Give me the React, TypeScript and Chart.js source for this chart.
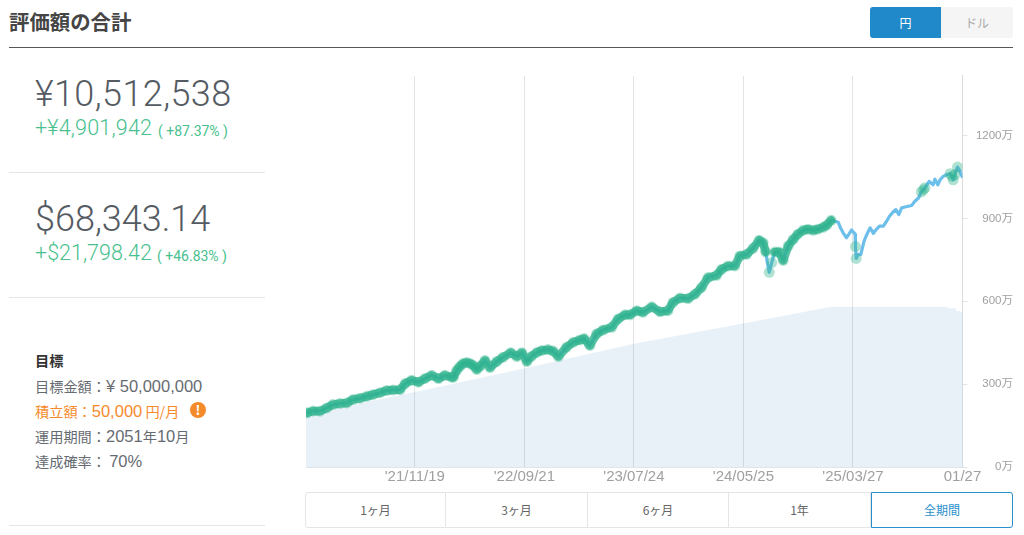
import { useEffect, useRef } from 'react';
import { Chart, registerables } from 'chart.js';
import type { CSSProperties, ReactNode } from 'react';

Chart.register(...registerables);

// days since the start of the range / total value in 万円
const totalDays = [3, 20, 39, 58, 75, 95, 114, 131, 151, 170, 187, 207, 225, 243, 263, 277, 295, 314, 332, 351, 370, 388, 407, 412, 421, 430, 439, 449, 458, 467, 477, 486, 500, 514, 533, 550, 572, 589, 603, 617, 629, 645, 659, 676, 690, 705, 728, 747, 765, 777, 793, 812, 830, 854, 872, 891, 905, 924, 941, 966, 989, 1011, 1025, 1045, 1067, 1087, 1105, 1123, 1147, 1161, 1179, 1198, 1212, 1231, 1249, 1266, 1277, 1284, 1289, 1294, 1298, 1301, 1306, 1310, 1322, 1333, 1347, 1361, 1374, 1389, 1402, 1417, 1430, 1445, 1455, 1467, 1487, 1493, 1501, 1510, 1524, 1534, 1535, 1537, 1543, 1550, 1559, 1567, 1576, 1585, 1592, 1602, 1613, 1622, 1630, 1640, 1648, 1656, 1664, 1676, 1692, 1701, 1711, 1719, 1725, 1729, 1741, 1752, 1757, 1765, 1772, 1780, 1791, 1799, 1805, 1808, 1813, 1820, 1826, 1833];
const totalValues = [196, 203, 202, 214, 226, 230, 232, 244, 249, 256, 262, 269, 277, 279, 280, 302, 314, 307, 320, 332, 320, 332, 325, 325, 350, 364, 375, 378, 375, 368, 353, 364, 386, 360, 382, 397, 414, 400, 414, 382, 400, 415, 422, 425, 420, 400, 434, 452, 460, 465, 440, 482, 496, 506, 536, 551, 551, 566, 560, 580, 562, 566, 596, 612, 610, 626, 650, 686, 694, 716, 728, 728, 764, 770, 792, 821, 812, 779, 739, 705, 724, 740, 764, 778, 778, 748, 800, 824, 843, 857, 861, 857, 861, 868, 876, 893, 886, 866, 847, 830, 858, 843, 798, 755, 770, 770, 818, 843, 866, 846, 858, 872, 872, 890, 908, 923, 932, 914, 938, 942, 947, 962, 974, 996, 1004, 1011, 1034, 1022, 1042, 1022, 1041, 1052, 1059, 1062, 1052, 1040, 1059, 1086, 1074, 1051];

// days on the early stretch with no marker, and the lone markers after it
const unmarkedEarly = [1289, 1298, 1306];
const bandGap = [1289, 1294, 1298, 1301, 1306];
const lastBandDay = 1467;
const loneMarkers = [1294, 1301, 1535, 1537, 1719, 1725, 1729, 1799, 1805, 1808, 1813, 1820];

const principalDays = [0, 151, 302, 609, 916, 1221, 1467, 1791, 1793, 1816, 1817, 1827, 1828, 1834];
const principalValues = [187, 231, 271, 357, 446, 520, 580, 580, 575, 575, 565, 565, 561, 561];

const gridDays = [304, 610, 916, 1222, 1528, 1834];
const gridLabels = ["'21/11/19", "'22/09/21", "'23/07/24", "'24/05/25", "'25/03/27", '01/27'];
const yTicks = [0, 300, 600, 900, 1200];

const rangeButtons = ['1ヶ月', '3ヶ月', '6ヶ月', '1年', '全期間'];

const JP = '"Noto Sans CJK JP", sans-serif';
const LIB = '"Liberation Sans", "Noto Sans CJK JP", sans-serif';
const NUM = 'Roboto, "Noto Sans CJK JP", sans-serif';
const GREEN = '#47bf8e';

const txt = (left: number, cy: number, size: number, color: string, extra: CSSProperties = {}): CSSProperties => ({
  position: 'absolute',
  left,
  top: cy - 20,
  height: 40,
  lineHeight: '40px',
  fontSize: size,
  color,
  fontFamily: JP,
  whiteSpace: 'nowrap',
  ...extra,
});

const rule = (top: number, left: number, width: number, color: string): CSSProperties => ({
  position: 'absolute',
  top,
  left,
  width,
  height: 1,
  background: color,
});

const D = ({ children }: { children: ReactNode }) => (
  <span style={{ fontFamily: LIB, fontSize: 16.5 }}>{children}</span>
);

const ValueChart = () => {
  const canvasRef = useRef<HTMLCanvasElement>(null);

  useEffect(() => {
    if (!canvasRef.current) return;
    const pairs = totalDays.map((d, i) => ({ x: d, y: totalValues[i] }));
    const isMarked = (d: number) => (d <= lastBandDay && !unmarkedEarly.includes(d)) || loneMarkers.includes(d);
    const chart = new Chart(canvasRef.current, {
      type: 'line',
      data: {
        datasets: [
          {
            label: 'markers',
            data: pairs.filter((p) => isMarked(p.x)),
            showLine: false,
            pointRadius: 5.5,
            pointBorderWidth: 0,
            pointBackgroundColor: 'rgba(46,178,140,0.38)',
            order: 1,
          },
          {
            label: 'band',
            data: pairs.map((p) => ({ x: p.x, y: p.x <= lastBandDay && !bandGap.includes(p.x) ? p.y : null })),
            borderColor: 'rgba(46,178,140,0.8)',
            borderWidth: 8.5,
            borderJoinStyle: 'round',
            borderCapStyle: 'round',
            pointRadius: 0,
            spanGaps: false,
            order: 2,
          },
          {
            label: 'total',
            data: pairs,
            borderColor: '#6cbeeb',
            borderWidth: 3.2,
            borderJoinStyle: 'round',
            borderCapStyle: 'round',
            pointRadius: 0,
            order: 3,
          },
          {
            label: 'principal',
            data: principalDays.map((d, i) => ({ x: d, y: principalValues[i] })),
            borderWidth: 0,
            pointRadius: 0,
            fill: 'origin',
            backgroundColor: 'rgba(0,102,170,0.09)',
            order: 4,
          },
        ],
      },
      options: {
        responsive: false,
        animation: false,
        layout: { padding: { left: 10, top: 12, right: 0, bottom: 0 } },
        plugins: { legend: { display: false }, tooltip: { enabled: false } },
        scales: {
          x: {
            type: 'linear',
            min: 0,
            max: 1834,
            afterBuildTicks: (s: any) => {
              s.ticks = gridDays.map((v) => ({ value: v }));
            },
            afterFit: (s: any) => {
              s.height = 23;
            },
            grid: { color: '#e2e4e6', lineWidth: 1, drawTicks: false },
            border: { display: true, color: '#e2e4e6' },
            ticks: {
              autoSkip: false,
              maxRotation: 0,
              padding: 1,
              color: '#a0a0a0',
              font: { family: LIB, size: 15 },
              callback: (v: any) => gridLabels[gridDays.indexOf(v)],
            },
          },
          y: {
            position: 'right',
            min: 0,
            max: 1416,
            afterBuildTicks: (s: any) => {
              s.ticks = yTicks.map((v) => ({ value: v }));
            },
            afterFit: (s: any) => {
              s.width = 50.5;
            },
            grid: { drawOnChartArea: false, tickLength: 5, color: '#e2e4e6' },
            border: { display: true, color: '#d8dadc' },
            ticks: {
              padding: 9,
              crossAlign: 'far',
              color: '#a0a0a0',
              font: { family: LIB, size: 11.5 },
              callback: (v: any) => `${v}万`,
            },
          },
        },
      },
    } as any);
    return () => chart.destroy();
  }, []);

  return (
    <canvas
      ref={canvasRef}
      width={717}
      height={430}
      style={{ position: 'absolute', left: 296, top: 60, width: 717, height: 430 }}
    />
  );
};

export default function App() {
  const cellEdges = [305, 446, 588, 729, 871, 1013];
  return (
    <div style={{ position: 'fixed', inset: 0, background: '#fff', overflow: 'hidden' }}>
      <div style={txt(9, 21, 20.4, '#454545', { fontWeight: 700 })}>評価額の合計</div>
      <div style={rule(47, 9, 1004, '#555')} />

      <div style={{ position: 'absolute', left: 870, top: 7, width: 71, height: 31, background: '#2089c9', borderRadius: '3px 0 0 3px', color: '#fff', textAlign: 'center', lineHeight: '31px', fontSize: 12, fontFamily: JP }}>円</div>
      <div style={{ position: 'absolute', left: 941, top: 7, width: 72, height: 31, background: '#f5f5f5', borderRadius: '0 3px 3px 0', color: '#aaa', textAlign: 'center', lineHeight: '31px', fontSize: 12, fontFamily: JP }}>ドル</div>

      <div style={txt(35, 94, 36, '#555b63', { fontFamily: NUM, fontWeight: 300, letterSpacing: 0.4 })}>¥10,512,538</div>
      <div style={txt(35, 128, 21.5, GREEN, { fontFamily: NUM, fontWeight: 300, letterSpacing: 0.2 })}>+¥4,901,942</div>
      <div style={txt(158, 131, 14, GREEN, { fontFamily: NUM })}>( +87.37% )</div>
      <div style={rule(172, 9, 256, '#e5e5e5')} />

      <div style={txt(35, 219, 36, '#555b63', { fontFamily: NUM, fontWeight: 300 })}>$68,343.14</div>
      <div style={txt(35, 253, 21.5, GREEN, { fontFamily: NUM, fontWeight: 300 })}>+$21,798.42</div>
      <div style={txt(157, 256, 14, GREEN, { fontFamily: NUM })}>( +46.83% )</div>
      <div style={rule(297, 9, 256, '#e5e5e5')} />

      <div style={txt(35, 360, 14.2, '#333', { fontWeight: 700 })}>目標</div>
      <div style={txt(35, 386, 14.2, '#666b72')}>目標金額：<D>¥ 50,000,000</D></div>
      <div style={txt(35, 411, 14.2, '#f58a2b')}>積立額：<D>50,000</D> 円/月</div>
      <div style={{ position: 'absolute', left: 190, top: 402, width: 16, height: 16, borderRadius: 8, background: '#f58a2b', color: '#fff', textAlign: 'center', lineHeight: '16px', fontSize: 13, fontWeight: 700, fontFamily: JP }}>!</div>
      <div style={txt(35, 436, 14.2, '#666b72')}>運用期間：<D>2051</D>年<D>10</D>月</div>
      <div style={txt(35, 461, 14.2, '#666b72')}>達成確率： <D>70%</D></div>
      <div style={rule(525, 9, 256, '#e5e5e5')} />

      <ValueChart />

      {rangeButtons.map((b, i) => {
        const active = i === rangeButtons.length - 1;
        return (
          <div
            key={b}
            style={{
              position: 'absolute',
              left: cellEdges[i],
              top: 492,
              width: cellEdges[i + 1] - cellEdges[i],
              height: 36,
              boxSizing: 'border-box',
              border: `1px solid ${active ? '#2a8fcb' : '#e5e5e5'}`,
              borderLeftWidth: i === 0 || active ? 1 : 0,
              borderRadius: i === 0 ? '3px 0 0 3px' : active ? '0 3px 3px 0' : 0,
              textAlign: 'center',
              lineHeight: '33px',
              fontSize: 12,
              fontFamily: JP,
              color: active ? '#2a8fcb' : '#666',
            }}
          >
            {b}
          </div>
        );
      })}
    </div>
  );
}
